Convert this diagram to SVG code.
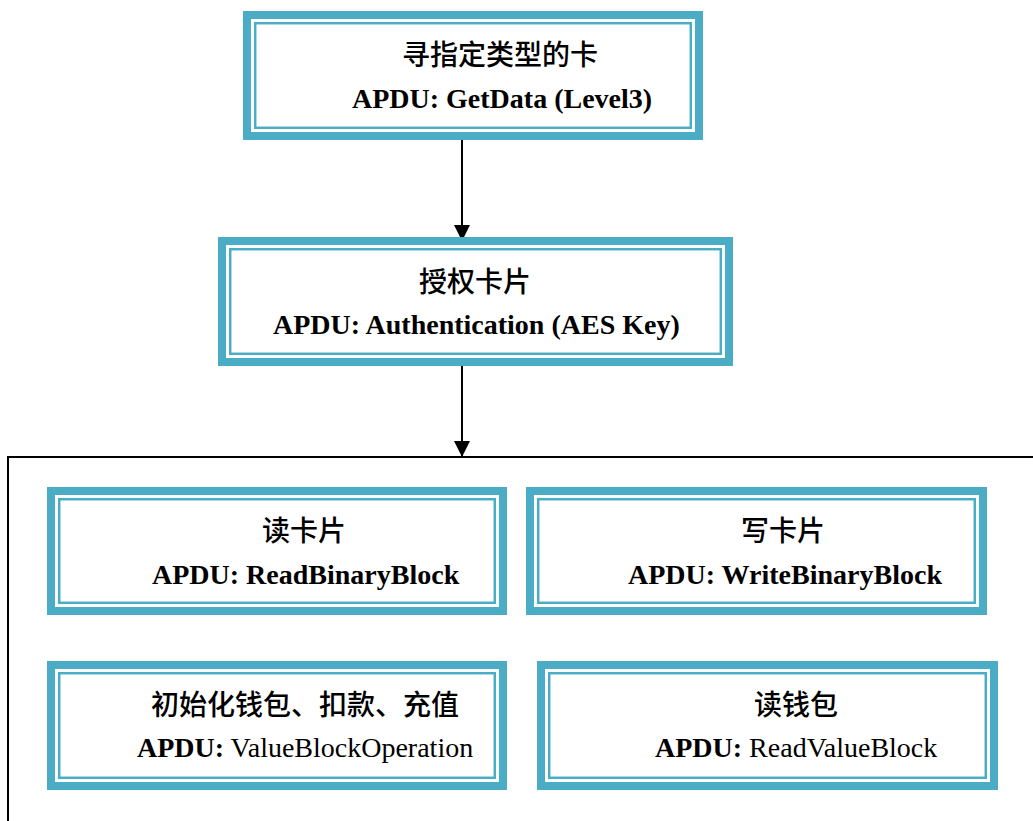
<svg xmlns="http://www.w3.org/2000/svg" width="1033" height="821" viewBox="0 0 1033 821">
<style>
.outer{fill:none;stroke:#4BACC6;stroke-width:8}
.inner{fill:none;stroke:#4BACC6;stroke-width:2.5}
.cjk{font-family:"Noto Sans CJK SC","Noto Sans CJK JP",sans-serif;font-size:28px;font-weight:500;fill:#000}
.ap{font-family:"Liberation Serif",serif;font-size:28px;font-weight:bold;fill:#000}
.reg{font-weight:normal}
.conn{stroke:#000;stroke-width:2;fill:none}
</style>
<defs>
<marker id="arr" markerUnits="userSpaceOnUse" markerWidth="16" markerHeight="17" refX="16" refY="8" orient="auto">
<path d="M0,0 L16,8 L0,16 Z" fill="#000"/>
</marker>
</defs>
<rect width="1033" height="821" fill="#fff"/>
<g id="container">
<path d="M8,821 L8,457 L1040,457" stroke="#000" stroke-width="2" fill="none"/>
</g>
<g id="connectors">
<line class="conn" x1="462" y1="140" x2="462" y2="241" marker-end="url(#arr)"/>
<line class="conn" x1="462" y1="366" x2="462" y2="457" marker-end="url(#arr)"/>
</g>
<g id="n1">
<rect class="outer" x="247" y="15" width="452" height="121"/>
<rect class="inner" x="255.2" y="23.2" width="435.6" height="104.6"/>
<text class="cjk" x="402" y="65">寻指定类型的卡</text>
<text class="ap" x="352" y="108">APDU: GetData (Level3)</text>
</g>
<g id="n2">
<rect class="outer" x="222" y="241" width="507" height="121"/>
<rect class="inner" x="230.2" y="249.2" width="490.6" height="104.6"/>
<text class="cjk" x="419" y="292">授权卡片</text>
<text class="ap" x="273" y="334">APDU: Authentication (AES Key)</text>
</g>
<g id="n3">
<rect class="outer" x="51" y="491" width="452" height="120"/>
<rect class="inner" x="59.2" y="499.2" width="435.6" height="103.6"/>
<text class="cjk" x="262" y="541">读卡片</text>
<text class="ap" x="152" y="584">APDU: ReadBinaryBlock</text>
</g>
<g id="n4">
<rect class="outer" x="530" y="491" width="453" height="120"/>
<rect class="inner" x="538.2" y="499.2" width="436.6" height="103.6"/>
<text class="cjk" x="741" y="541">写卡片</text>
<text class="ap" x="628" y="584">APDU: WriteBinaryBlock</text>
</g>
<g id="n5">
<rect class="outer" x="51" y="665" width="452" height="121"/>
<rect class="inner" x="59.2" y="673.2" width="435.6" height="104.6"/>
<text class="cjk" x="151" y="715">初始化钱包、扣款、充值</text>
<text class="ap" x="137" y="757">APDU:<tspan class="reg"> ValueBlockOperation</tspan></text>
</g>
<g id="n6">
<rect class="outer" x="541" y="665" width="453" height="121"/>
<rect class="inner" x="549.2" y="673.2" width="436.6" height="104.6"/>
<text class="cjk" x="754" y="715">读钱包</text>
<text class="ap" x="655" y="757">APDU:<tspan class="reg"> ReadValueBlock</tspan></text>
</g>
</svg>
